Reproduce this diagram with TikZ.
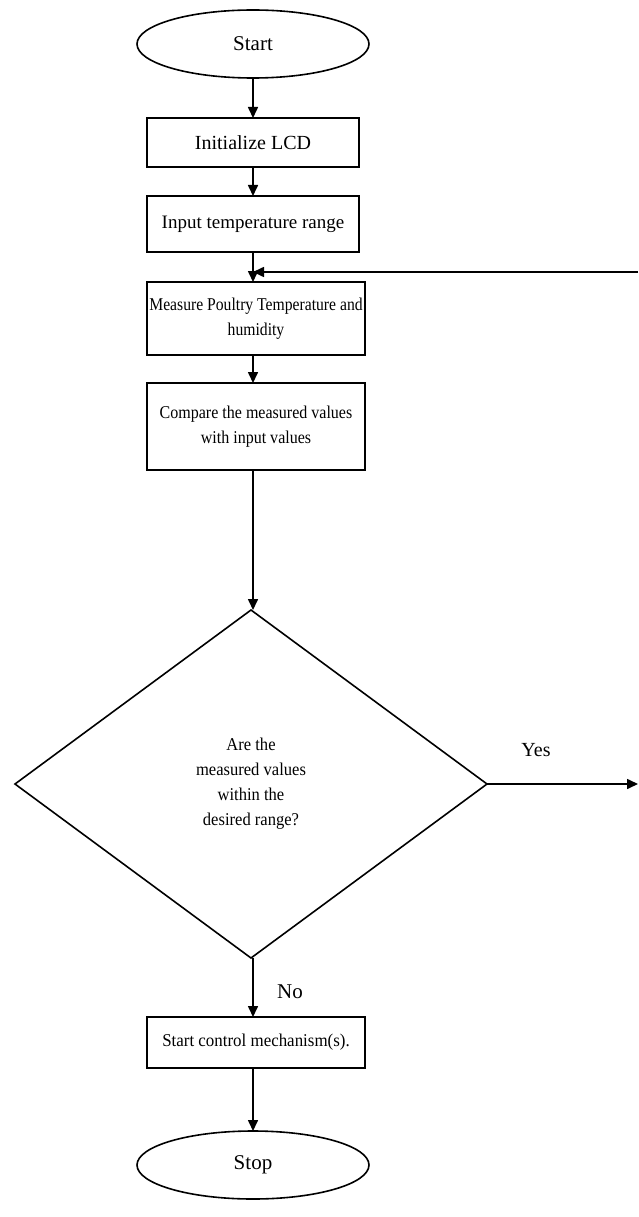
\documentclass[tikz,border=0pt]{standalone}
\usepackage{fontspec}
\setmainfont{Liberation Serif}
\newfontfamily\condA[FakeStretch=0.87]{Liberation Serif}
\newfontfamily\condB[FakeStretch=0.89]{Liberation Serif}
\newfontfamily\condC[FakeStretch=0.92]{Liberation Serif}
\newfontfamily\condD[FakeStretch=0.94]{Liberation Serif}
\usetikzlibrary{shapes.geometric,arrows.meta}
\newcommand{\fs}[1]{\fontsize{#1}{25}\selectfont}
\begin{document}
\begin{tikzpicture}[x=1pt,y=-1pt,
  every node/.style={font=\fs{16}, inner sep=0pt, outer sep=0pt},
  procbox/.style={draw, line width=1.6pt, rectangle, align=center},
  termin/.style={draw, line width=1.6pt, ellipse, minimum width=232pt, minimum height=68pt, font=\fs{21}},
  decide/.style={draw, line width=1.6pt, diamond, aspect=1.356, minimum width=472pt, minimum height=348pt, align=center, font=\condC\fs{18}},
  flow/.style={line width=1.6pt, -{Triangle[length=11pt,width=10pt]}},
  lbl/.style={font=\fs{20}}
]
\useasboundingbox (0,0) rectangle (638,1217);

\node[termin] (start) at (253,44) {Start};
\node[procbox, minimum width=212pt, minimum height=49pt, font=\fs{20}] (lcd) at (253,142.5) {Initialize LCD};
\node[procbox, minimum width=212pt, minimum height=56pt, font=\fs{19}] (inp) at (253,224) {Input temperature range};
\node[procbox, minimum width=218pt, minimum height=73pt, font=\condA\fs{18}] (meas) at (256,318.5) {Measure Poultry Temperature and\\humidity};
\node[procbox, minimum width=218pt, minimum height=87pt, font=\condB\fs{18}] (comp) at (256,426.5) {Compare the measured values\\with input values};
\node[decide] (dec) at (251,784) {Are the\\measured values\\within the\\desired range?};
\node[procbox, minimum width=218pt, minimum height=51pt, font=\condD\fs{18}] (ctrl) at (256,1042.5) {Start control mechanism(s).};
\node[termin] (stop) at (253,1165) {Stop};

\coordinate (loopR) at (638,272);
\coordinate (loopJ) at (253,272);
\coordinate (yesR) at (638,784);

\draw[flow] (start.south) -- (lcd.north -| start.south);
\draw[flow] (lcd.south -| start.south) -- (inp.north -| start.south);
\draw[flow] (inp.south -| start.south) -- (meas.north -| start.south);
\draw[flow] (meas.south -| start.south) -- (comp.north -| start.south);
\draw[flow] (comp.south -| start.south) -- (dec.north -| start.south);
\draw[flow] (dec.south -| start.south) -- (ctrl.north -| start.south);
\draw[flow] (ctrl.south -| start.south) -- (stop.north);
\draw[flow] (loopR) -- (loopJ);
\draw[flow] (dec.east) -- (yesR);

\node[lbl] (yes) at (536,750) {Yes};
\node[lbl, font=\fs{21}] (no) at (290,992) {No};
\end{tikzpicture}
\end{document}
